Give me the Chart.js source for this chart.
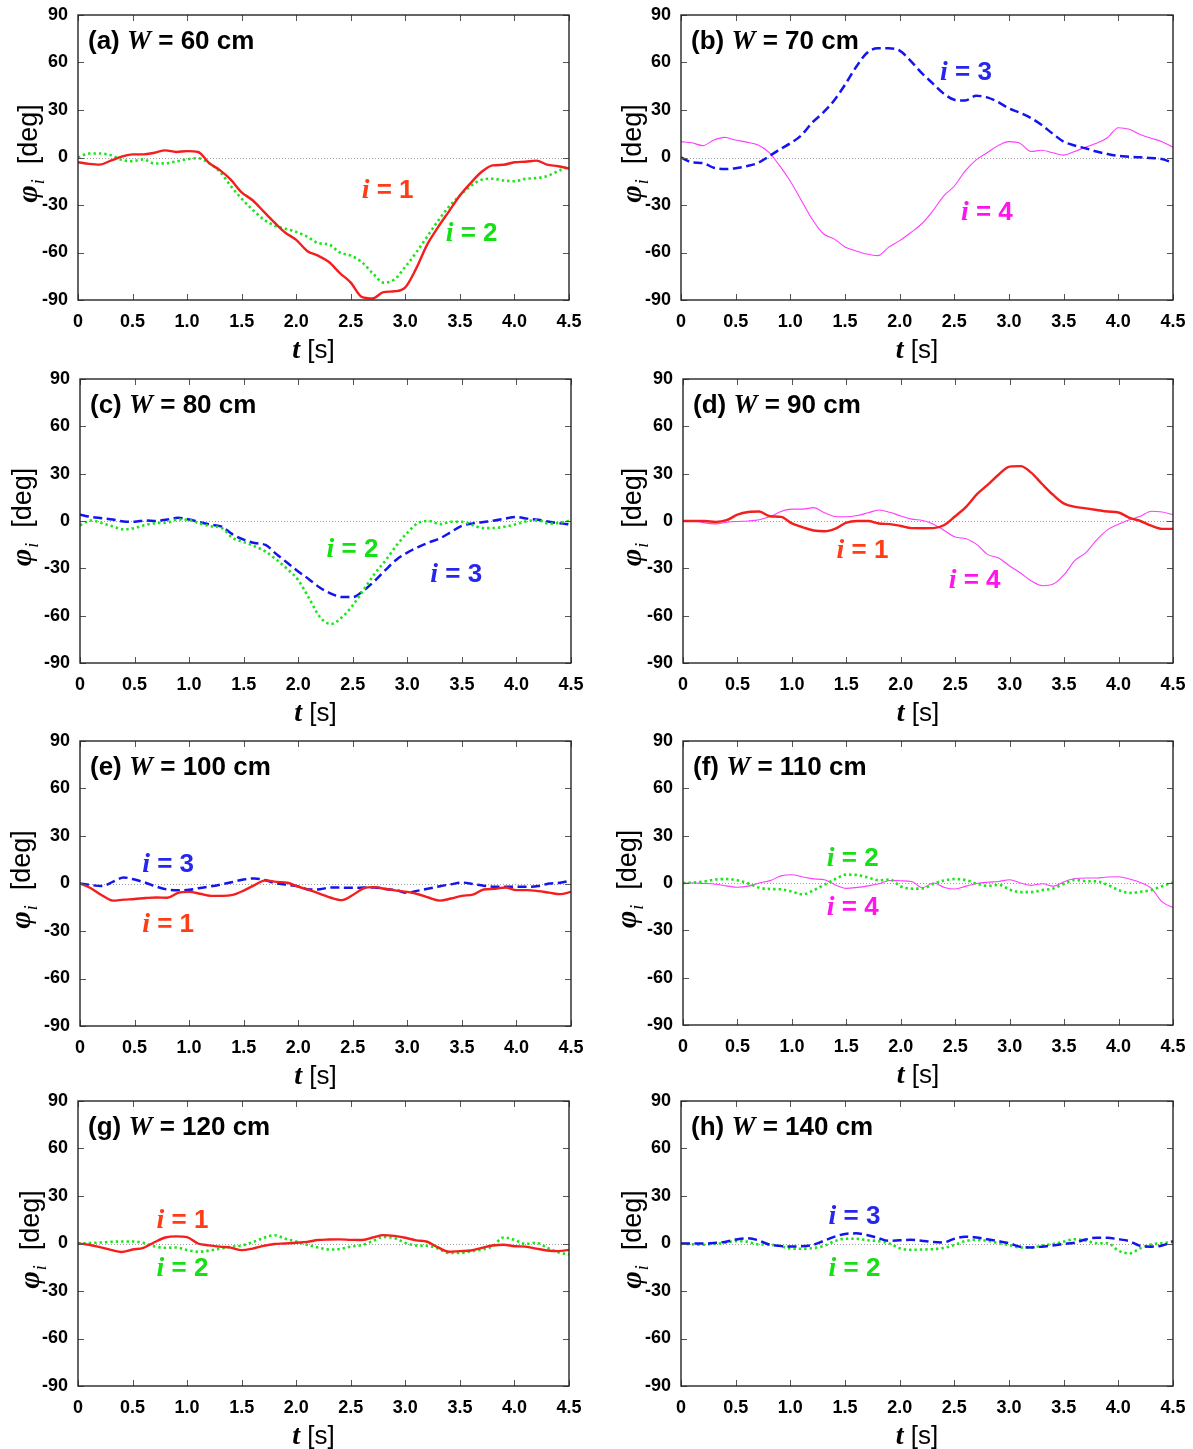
<!DOCTYPE html>
<html>
<head>
<meta charset="utf-8">
<title>Rotation angle of each unit vs. time</title>
<script src="https://cdn.jsdelivr.net/npm/chart.js@4.4.1/dist/chart.umd.min.js"></script>
<style>
  html, body { margin: 0; padding: 0; background: #fff; overflow: hidden; }
  #fig { position: relative; width: 1193px; height: 1449px; background: #fff; }
</style>
</head>
<body>
<div id="fig"></div>
<script>
// ---- sampling times [s] ----
const T = [0, 0.1, 0.2, 0.3, 0.4, 0.5, 0.6, 0.7, 0.8, 0.9,
           1.0, 1.1, 1.2, 1.3, 1.4, 1.5, 1.6, 1.7, 1.8, 1.9,
           2.0, 2.1, 2.2, 2.3, 2.4, 2.5, 2.6, 2.7, 2.8, 2.9,
           3.0, 3.1, 3.2, 3.3, 3.4, 3.5, 3.6, 3.7, 3.8, 3.9,
           4.0, 4.1, 4.2, 4.3, 4.4, 4.5];

// ---- axis ticks ----
const X_TICKS = [0, 0.5, 1.0, 1.5, 2.0, 2.5, 3.0, 3.5, 4.0, 4.5];
const X_TICK_LABELS = ['0', '0.5', '1.0', '1.5', '2.0', '2.5', '3.0', '3.5', '4.0', '4.5'];
const Y_TICKS = [-90, -60, -30, 0, 30, 60, 90];
const Y_TICK_LABELS = ['-90', '-60', '-30', '0', '30', '60', '90'];

// ---- panel widths W [cm] ----
const WIDTHS = [60, 70, 80, 90, 100, 110, 120, 140];

// ---- angle phi_i [deg] ----
// (a) W = 60 cm
const A_I1 = [-3, -4, -4.5, -2, 0.5, 2, 2, 3, 4.5, 3.5,
              4, 3.5, -3.4, -8, -14, -22, -27, -34, -41, -47.5,
              -52, -59, -62, -66, -73, -79, -88, -89, -85, -84.5,
              -82, -70, -55, -44, -34, -24, -16, -9, -5, -4.6,
              -3, -2.7, -2, -4.5, -5.5, -7];
const A_I2 = [0, 2.5, 2.5, 1.5, -1.5, -2.3, -1.2, -3.8, -3.7, -2.5,
              -1, -0.5, -3.5, -9, -18, -26, -33, -39, -43, -45,
              -47, -50, -54, -55, -60, -62, -66, -73, -79, -77,
              -69, -60, -50, -40, -31, -24, -18, -14, -13.4, -14.5,
              -15, -13.5, -13, -11.7, -8.6, -5.5];
// (b) W = 70 cm
const B_I3 = [0, -3, -3.5, -6.5, -7.3, -6.8, -5.5, -3.5, 0.5, 5,
              9, 14, 22, 28.3, 36, 46, 57, 66, 69, 69,
              67.5, 61, 53.5, 47, 40.5, 36.5, 36, 39, 38, 35,
              31, 28.3, 25, 20.5, 15, 10, 7.6, 5.8, 3.8, 2.2,
              1, 0.5, 0.1, -0.3, -1, -3.5];
const B_I4 = [10, 9.3, 7.5, 11, 12.7, 11, 9.7, 8, 3.5, -5,
              -15, -27, -39, -48, -51.4, -56.5, -59, -61, -62, -56.6,
              -52.5, -47.5, -42, -34, -24.5, -18, -8.5, -1.5, 3, 7.5,
              10, 9, 3.8, 4.6, 3, 1.5, 3.8, 6.5, 9, 12.5,
              18.8, 17.8, 14.5, 12.2, 10, 6.5];
// (c) W = 80 cm
const C_I2 = [-2.7, 0.3, -1.3, -3.5, -5.3, -4.5, -2.5, -1.3, -1, 1,
              0.6, -1.5, -3.3, -4.5, -10.8, -13.3, -16, -19.3, -24.5, -30.5,
              -37.5, -49, -61, -65.3, -61, -53.5, -43.5, -33.5, -25, -15.5,
              -7.5, -1.2, 0, -2, -0.5, -0.5, -2.7, -4.5, -4.4, -3.5,
              -2, 0, 0.4, -1.7, -1, 0.4];
const C_I3 = [4, 2.6, 1.8, 1, -0.3, -0.5, 0.4, 0, 1, 2,
              1, -0.8, -2.3, -3.6, -8.5, -11.8, -14, -15.2, -21, -26.5,
              -32, -37, -42.3, -46, -48.2, -48.2, -44, -38, -31, -24.5,
              -20, -16.5, -13.5, -11, -7, -3, -1.5, -0.6, 0.3, 1.6,
              2.5, 1.5, 0.8, -0.5, -1.5, -2.3];
// (d) W = 90 cm
const D_I1 = [0, 0, 0, -0.6, 0.5, 4, 5.7, 6, 3, 2.6,
              -1.5, -4, -6, -6.5, -4.8, -1, 0, 0, -1.6, -2,
              -3.2, -4.5, -4.6, -4.5, -2.5, 3, 9, 17, 23, 29.5,
              34.5, 34.8, 30.5, 23.3, 16.5, 11, 9, 8, 7, 6,
              5.4, 2, 0, -3, -5, -5];
const D_I4 = [0, 0.2, -1.2, -1.8, -0.8, -0.3, 0, 0.8, 2.8, 6,
              7.5, 7.5, 8.5, 5.2, 2.9, 2.7, 3.5, 5.2, 7, 5.5,
              3.2, 1.2, 0.3, -2, -6, -10.2, -11.2, -15, -21.3, -23.5,
              -28.5, -33, -38, -41, -40, -34, -25, -20, -12, -5.5,
              -2, 0.8, 3, 6.2, 5.7, 4];
// (e) W = 100 cm
const E_I1 = [0, -3, -7.4, -10.8, -10.2, -9.8, -9.2, -8.8, -9, -5.9,
              -5.3, -6.5, -7.8, -7.8, -7.2, -4.5, -1, 2, 1, 0.5,
              -2, -4.2, -6.5, -9, -10.5, -7.3, -3, -2.3, -3.5, -4.5,
              -5.3, -6.8, -9, -10.8, -9.5, -7.8, -7, -3.8, -3.4, -2.5,
              -4.2, -4.2, -4.8, -5.8, -6.7, -5.3];
const E_I3 = [0, -1, -1.6, 1, 3.8, 2.5, 0.5, -2, -3.8, -4.3,
              -4, -2.8, -1.8, -0.5, 1, 2.5, 3.2, 2, 0, -0.8,
              -1.8, -3.8, -3.6, -2.5, -2.6, -2.7, -2.6, -2.5, -3.5, -4.3,
              -5.9, -4.5, -3.1, -1.7, -0.5, 0.6, -0.3, -1.4, -2.1, -2.1,
              -2.1, -2.1, -1.6, 0, 0.5, 1.8];
// (f) W = 110 cm
const F_I2 = [0, 0.3, 1, 2.2, 2.5, 1.7, -0.3, -3, -3.8, -4,
              -5.5, -7.2, -4.6, -1, 2.5, 5.3, 5, 3.5, 1.7, 2.2,
              -2.2, -3.6, -3.5, -0.5, 1.7, 2.5, 1.8, -0.5, -1.8, -1.2,
              -4.2, -5.8, -5.8, -4.5, -3.5, -0.5, 2, 1.2, 1, -1.2,
              -4.5, -6.3, -5.6, -4.5, -2, 0.3];
const F_I4 = [0, 0, -0.3, -0.8, -1.8, -2.7, -2, 0, 1.5, 4.5,
              5.2, 3.8, 2.6, 2.1, -1.2, -3.4, -2.8, -1.8, -0.5, 1.6,
              1.4, 1, -3, 0, -2.8, -3.8, -2, -0.3, 0.5, 1,
              2.1, 0, -1.5, -0.5, -2, 0.8, 2.8, 3.2, 3.2, 3.8,
              4, 2.5, 0.3, -3.2, -12, -15.5];
// (g) W = 120 cm
const G_I1 = [0, -0.8, -2.3, -4, -5.4, -3.8, -2.7, 0.8, 3.8, 4.5,
              4, 0, -1.2, -2, -2.6, -4.2, -3.2, -1.5, -0.3, 0,
              0.5, 1, 2.2, 2.5, 2.6, 2.3, 2.2, 3.8, 5.3, 4.8,
              3.6, 2, 1.1, -2.5, -5.2, -4.8, -4.4, -2.8, -1.3, -0.8,
              -1.7, -2, -3.2, -4.4, -4.8, -4];
const G_I2 = [0, 0.3, 0.6, 1, 1.3, 1.3, 0.4, -1.8, -2.7, -2.5,
              -4.2, -5.2, -4.5, -3.3, -2, -1.3, 0.8, 3.5, 5.2, 3,
              1.2, -0.8, -2.5, -3.8, -3.5, -2, -1, 1.5, 4.2, 3.4,
              0.4, -1.3, -1.5, -3.2, -6, -6, -5, -3.8, -1.8, 3.8,
              2.3, -0.3, 0.5, -2.7, -5.5, -7];
// (h) W = 140 cm
const H_I2 = [0, -0.5, -0.8, -0.3, 0.5, 1.5, 1.2, -0.5, -0.7, -1.5,
              -3.2, -3.3, -3, -1.7, 1.3, 3, 3, 2.1, 1.5, 0.2,
              -3, -4, -3.8, -3.6, -2.8, -1, 1.5, 2.3, 1.7, 0.3,
              -1, -2.5, -2.7, -1.3, -0.3, 1.2, 2.7, 1.8, 0.2, 0.2,
              -4.5, -6.3, -3, -0.6, 0.2, 1];
const H_I3 = [0, 0, 0, 0.3, 1, 2.5, 3.3, 2.2, -0.5, -1.5,
              -1.9, -1.8, -1, 1.5, 4.2, 6, 6.4, 5.4, 3.5, 1.7,
              2, 2.3, 1.8, 1, 0.7, 3, 4.3, 3.8, 2.7, 1.5,
              0.2, -2, -2.5, -2, -1.2, -0.3, 0.5, 2.5, 3.7, 3.6,
              2.7, 1.5, -1.5, -2, -1.3, 1.5];

// ---- line style of each unit i ----
const STYLE = {
  1: { line: '#f41e1e', text: '#ff3c14', width: 2.4, dash: [] },
  2: { line: '#19e619', text: '#14e014', width: 2.6, dash: [2.4, 3] },
  3: { line: '#1414ee', text: '#2626ee', width: 2.5, dash: [9, 4.5] },
  4: { line: '#ff3cff', text: '#ff14f0', width: 1.1, dash: [] }
};

const SANS = "'Liberation Sans', Arial, Helvetica, sans-serif";
const SERIF = "'Liberation Serif', 'Times New Roman', serif";

// ---- panel layout: plot box [left, top, right, bottom] in page px ----
const PANELS = [
  { tag: 'a', w: WIDTHS[0], box: [78, 15, 569, 300], yGap: 51,
    series: [{ i: 1, v: A_I1 }, { i: 2, v: A_I2 }],
    notes: [{ i: 1, t: 2.60, v: -20 }, { i: 2, t: 3.37, v: -47 }] },
  { tag: 'b', w: WIDTHS[1], box: [681, 15, 1173, 300], yGap: 50,
    series: [{ i: 3, v: B_I3 }, { i: 4, v: B_I4 }],
    notes: [{ i: 3, t: 2.37, v: 54.5 }, { i: 4, t: 2.56, v: -33.5 }] },
  { tag: 'c', w: WIDTHS[2], box: [80, 379, 571, 663], yGap: 59,
    series: [{ i: 2, v: C_I2 }, { i: 3, v: C_I3 }],
    notes: [{ i: 2, t: 2.26, v: -17 }, { i: 3, t: 3.21, v: -33 }] },
  { tag: 'd', w: WIDTHS[3], box: [683, 379, 1173, 663], yGap: 52,
    series: [{ i: 1, v: D_I1 }, { i: 4, v: D_I4 }],
    notes: [{ i: 1, t: 1.41, v: -18 }, { i: 4, t: 2.44, v: -37 }] },
  { tag: 'e', w: WIDTHS[4], box: [80, 741, 571, 1026], yGap: 60,
    series: [{ i: 1, v: E_I1 }, { i: 3, v: E_I3 }],
    notes: [{ i: 3, t: 0.57, v: 12.7 }, { i: 1, t: 0.57, v: -25 }] },
  { tag: 'f', w: WIDTHS[5], box: [683, 741, 1173, 1025], yGap: 57,
    series: [{ i: 2, v: F_I2 }, { i: 4, v: F_I4 }],
    notes: [{ i: 2, t: 1.32, v: 16.2 }, { i: 4, t: 1.32, v: -14.3 }] },
  { tag: 'g', w: WIDTHS[6], box: [78, 1101, 569, 1386], yGap: 49,
    series: [{ i: 1, v: G_I1 }, { i: 2, v: G_I2 }],
    notes: [{ i: 1, t: 0.72, v: 15.7 }, { i: 2, t: 0.72, v: -14.9 }] },
  { tag: 'h', w: WIDTHS[7], box: [681, 1101, 1173, 1386], yGap: 50,
    series: [{ i: 3, v: H_I3 }, { i: 2, v: H_I2 }],
    notes: [{ i: 3, t: 1.35, v: 17.8 }, { i: 2, t: 1.35, v: -14.7 }] }
];

// space reserved around each plot box inside its canvas
const AX_W = 78, AX_H = 70, PAD_T = 15, PAD_R = 18, TICK = 6;

// draw a run of differently styled text pieces on one baseline
function richWidth(ctx, segs) {
  let w = 0;
  for (const s of segs) { ctx.font = s.font; w += ctx.measureText(s.text).width + (s.dx || 0); }
  return w;
}
function drawRich(ctx, segs, x, y, align) {
  let cx = align === 'center' ? x - richWidth(ctx, segs) / 2 : x;
  ctx.textBaseline = 'alphabetic';
  ctx.textAlign = 'left';
  for (const s of segs) {
    ctx.font = s.font;
    ctx.fillStyle = s.color || '#000';
    cx += (s.dx || 0);
    ctx.fillText(s.text, cx, y + (s.dy || 0));
    cx += ctx.measureText(s.text).width;
  }
}

function decorations(p) {
  return {
    id: 'decor_' + p.tag,
    beforeDatasetsDraw(chart) {
      // dotted reference line at phi = 0
      const { ctx, chartArea: a, scales: { y } } = chart;
      const y0 = Math.round(y.getPixelForValue(0)) + 0.5;
      ctx.save();
      ctx.strokeStyle = '#a0a0a0';
      ctx.lineWidth = 1;
      ctx.setLineDash([1, 2]);
      ctx.beginPath(); ctx.moveTo(a.left, y0); ctx.lineTo(a.right, y0); ctx.stroke();
      ctx.restore();
    },
    afterDraw(chart) {
      const { ctx, chartArea: a, scales: { x: xs, y: ys } } = chart;
      ctx.save();
      // inward tick marks on all four sides
      ctx.strokeStyle = '#555';
      ctx.lineWidth = 1;
      ctx.beginPath();
      for (const v of Y_TICKS) {
        const y = Math.round(ys.getPixelForValue(v)) + 0.5;
        ctx.moveTo(a.left, y); ctx.lineTo(a.left + TICK, y);
        ctx.moveTo(a.right, y); ctx.lineTo(a.right - TICK, y);
      }
      for (const v of X_TICKS) {
        const x = Math.round(xs.getPixelForValue(v)) + 0.5;
        ctx.moveTo(x, a.bottom); ctx.lineTo(x, a.bottom - TICK);
        ctx.moveTo(x, a.top); ctx.lineTo(x, a.top + TICK);
      }
      ctx.stroke();
      // plot frame
      ctx.strokeStyle = '#262626';
      ctx.lineWidth = 1.4;
      ctx.strokeRect(a.left, a.top, a.right - a.left, a.bottom - a.top);

      // panel caption
      drawRich(ctx, [
        { text: '(' + p.tag + ') ', font: `bold 26px ${SANS}` },
        { text: 'W', font: `italic bold 27px ${SERIF}` },
        { text: ' = ' + p.w + ' cm', font: `bold 26px ${SANS}` }
      ], a.left + 10, a.top + 34, 'left');

      // unit labels next to the curves
      for (const n of p.notes) {
        const col = STYLE[n.i].text;
        drawRich(ctx, [
          { text: 'i', font: `italic bold 28px ${SERIF}`, color: col },
          { text: ' = ' + n.i, font: `bold 26px ${SANS}`, color: col }
        ], xs.getPixelForValue(n.t), ys.getPixelForValue(n.v) + 9, 'left');
      }

      // x-axis title: t [s]
      drawRich(ctx, [
        { text: 't', font: `italic bold 28px ${SERIF}` },
        { text: ' [s]', font: `26px ${SANS}` }
      ], (a.left + a.right) / 2 - 10, a.bottom + 58, 'center');

      // y-axis title: phi_i [deg], rotated
      ctx.translate(a.left - p.yGap, (a.top + a.bottom) / 2 - 4);
      ctx.rotate(-Math.PI / 2);
      drawRich(ctx, [
        { text: 'φ', font: `italic bold 30px ${SERIF}` },
        { text: 'i', font: `italic 18px ${SERIF}`, dy: 7, dx: 1 },
        { text: '  [deg]', font: `27px ${SANS}`, dy: 0 }
      ], 0, 10, 'center');
      ctx.restore();
    }
  };
}

// keep the plot box exactly at the reserved size: no extra room for edge labels
function fixX(s) { s.height = AX_H; s.paddingLeft = 0; s.paddingRight = 0; }
function fixY(s) { s.width = AX_W; s.paddingTop = 0; s.paddingBottom = 0; }

const fig = document.getElementById('fig');

for (const p of PANELS) {
  const [L, Tp, R, B] = p.box;
  const cw = (R - L) + AX_W + PAD_R;
  const ch = (B - Tp) + PAD_T + AX_H;
  const cv = document.createElement('canvas');
  cv.width = cw; cv.height = ch;
  cv.style.cssText = `position:absolute;left:${L - AX_W}px;top:${Tp - PAD_T}px;width:${cw}px;height:${ch}px;`;
  fig.appendChild(cv);

  new Chart(cv, {
    type: 'line',
    data: {
      datasets: p.series.map(s => ({
        label: 'i = ' + s.i,
        data: T.map((t, k) => ({ x: t, y: s.v[k] })),
        borderColor: STYLE[s.i].line,
        borderWidth: STYLE[s.i].width,
        borderDash: STYLE[s.i].dash,
        borderCapStyle: 'butt',
        pointRadius: 0,
        fill: false,
        cubicInterpolationMode: 'monotone'
      }))
    },
    options: {
      responsive: false,
      maintainAspectRatio: false,
      animation: false,
      devicePixelRatio: 1,
      events: [],
      layout: { padding: { left: 0, top: PAD_T, right: PAD_R, bottom: 0 } },
      plugins: { legend: { display: false }, tooltip: { enabled: false }, title: { display: false } },
      scales: {
        x: {
          type: 'linear', min: 0, max: 4.5,
          afterBuildTicks: s => { s.ticks = X_TICKS.map(v => ({ value: v })); },
          afterFit: fixX,
          grid: { display: false, drawTicks: false },
          border: { display: false },
          ticks: {
            autoSkip: false, maxRotation: 0, padding: 11, color: '#000',
            font: { family: SANS, size: 18, weight: 'bold' },
            callback: (v, idx) => X_TICK_LABELS[idx]
          }
        },
        y: {
          type: 'linear', min: -90, max: 90,
          afterBuildTicks: s => { s.ticks = Y_TICKS.map(v => ({ value: v })); },
          afterFit: fixY,
          grid: { display: false, drawTicks: false },
          border: { display: false },
          ticks: {
            autoSkip: false, padding: 10, color: '#000',
            font: { family: SANS, size: 18, weight: 'bold' },
            callback: (v, idx) => Y_TICK_LABELS[idx]
          }
        }
      }
    },
    plugins: [decorations(p)]
  });
}
</script>
</body>
</html>
